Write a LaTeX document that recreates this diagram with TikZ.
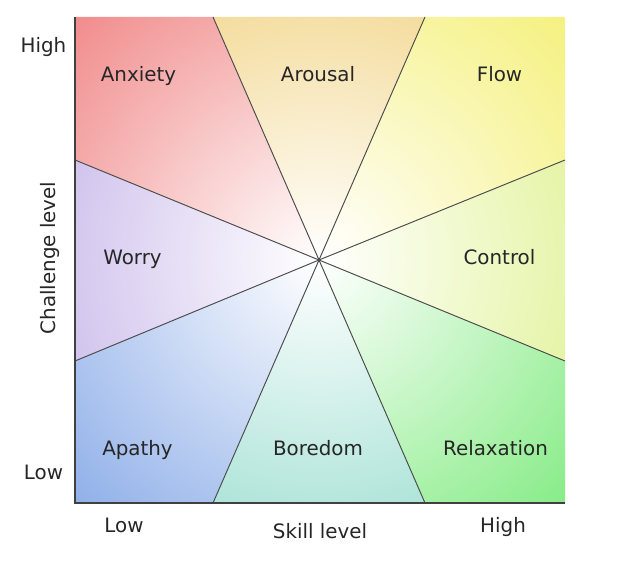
\documentclass[tikz,border=0pt]{standalone}
\usepackage{fontspec}
\setmainfont{DejaVu Sans}
\usepackage{xcolor}
\usetikzlibrary{positioning}

\definecolor{anxietycol}{RGB}{241,140,140}
\definecolor{arousalcol}{RGB}{241,210,128}
\definecolor{flowcol}{RGB}{245,241,128}
\definecolor{controlcol}{RGB}{222,241,140}
\definecolor{relaxcol}{RGB}{136,236,136}
\definecolor{boredomcol}{RGB}{150,220,206}
\definecolor{apathycol}{RGB}{144,176,233}
\definecolor{worrycol}{RGB}{196,178,232}

% shaded wedge: white at the centre, colour towards the rim
\newcommand{\zonefill}[2]{%
  \begin{scope}
    \clip #1;
    \shade[inner color=white, outer color=#2] (ctr) circle (345);
  \end{scope}}

\begin{document}
\begin{tikzpicture}[
    x=0.02cm, y=0.02cm,
    zone/.style={font=\fontsize{11.3}{13.6}\selectfont, text=black!85, inner sep=0pt, anchor=base},
    axlabel/.style={zone},
    divider/.style={draw=black!70, line width=0.55pt},
    axisline/.style={draw=black!75, line width=1.2pt},
]
\useasboundingbox (0,0) rectangle (631,568);

% === Frame points ===
\coordinate (ctr) at (319,308);
\coordinate (tl) at (75,551);
\coordinate (tr) at (565,551);
\coordinate (br) at (565,65);
\coordinate (bl) at (75,65);
\coordinate (t1) at (213,551);
\coordinate (t2) at (425,551);
\coordinate (r1) at (565,408);
\coordinate (r2) at (565,207);
\coordinate (b1) at (213,65);
\coordinate (b2) at (425,65);
\coordinate (l1) at (75,408);
\coordinate (l2) at (75,207);

% === Coloured zones ===
\zonefill{(ctr) -- (l1) -- (tl) -- (t1) -- cycle}{anxietycol}
\zonefill{(ctr) -- (t1) -- (t2) -- cycle}{arousalcol}
\zonefill{(ctr) -- (t2) -- (tr) -- (r1) -- cycle}{flowcol}
\zonefill{(ctr) -- (r1) -- (r2) -- cycle}{controlcol}
\zonefill{(ctr) -- (r2) -- (br) -- (b2) -- cycle}{relaxcol}
\zonefill{(ctr) -- (b2) -- (b1) -- cycle}{boredomcol}
\zonefill{(ctr) -- (b1) -- (bl) -- (l2) -- cycle}{apathycol}
\zonefill{(ctr) -- (l2) -- (l1) -- cycle}{worrycol}

% === Dividers ===
\foreach \p in {t1,t2,r1,r2,b1,b2,l1,l2}
  \draw[divider] (ctr) -- (\p);

% === Axes ===
\draw[axisline] (tl) -- (bl) -- (br);

% === Zone labels ===
\node[zone] (anxiety) at (138.5,486) {Anxiety};
\node[zone] (arousal) at (318,486) {Arousal};
\node[zone] (flow) at (499.5,486) {Flow};
\node[zone] (worry) at (132.5,303) {Worry};
\node[zone] (control) at (499.5,303) {Control};
\node[zone] (apathy) at (137.5,113) {Apathy};
\node[zone] (boredom) at (318,113) {Boredom};
\node[zone] (relax) at (495.5,113) {Relaxation};

% === Axis labels ===
\node[axlabel] (chigh) at (43.5,515) {High};
\node[axlabel] (clow) at (43.5,89) {Low};
\node[axlabel, rotate=90] (challenge) at (55,310) {Challenge level};
\node[axlabel] (slow) at (124,36) {Low};
\node[axlabel] (skill) at (320,30) {Skill level};
\node[axlabel] (shigh) at (503,36) {High};

\end{tikzpicture}
\end{document}
